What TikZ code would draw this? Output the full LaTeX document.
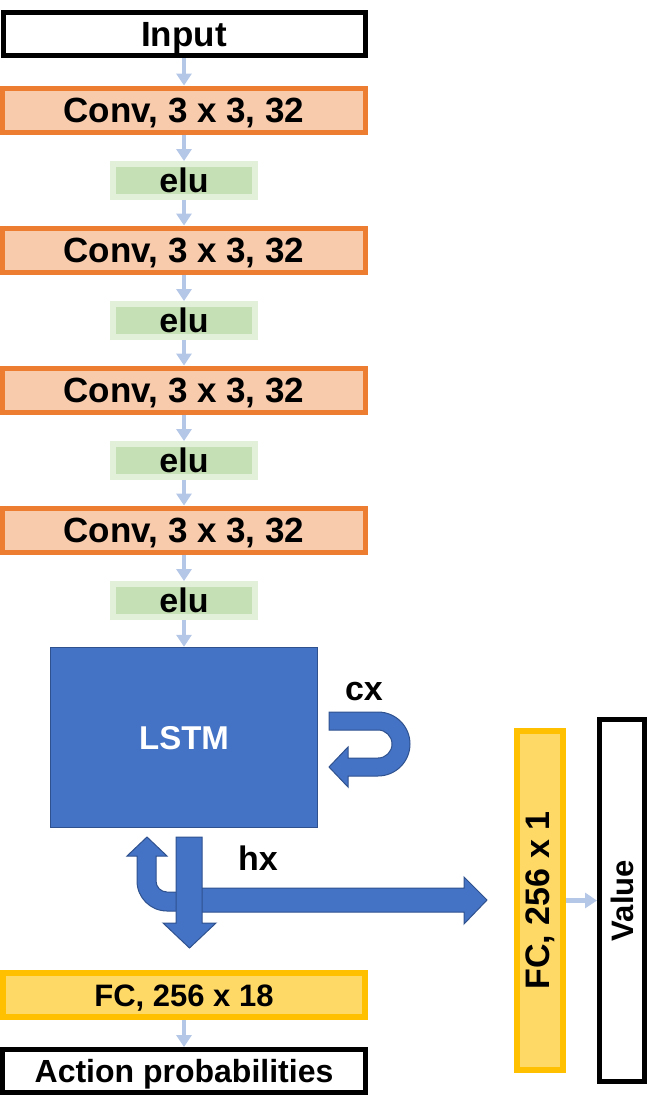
\documentclass[tikz,border=0pt]{standalone}
\usepackage{fontspec}
\setmainfont{Liberation Sans}
\usepackage{graphicx}
\usetikzlibrary{arrows.meta}
\definecolor{convline}{HTML}{ED7D31}
\definecolor{convfill}{HTML}{F8CBAD}
\definecolor{eluline}{HTML}{E2F0D9}
\definecolor{elufill}{HTML}{C5E0B4}
\definecolor{goldline}{HTML}{FFC000}
\definecolor{goldfill}{HTML}{FFD966}
\definecolor{lstmblue}{HTML}{4472C4}
\definecolor{darkblue}{HTML}{2F528F}
\definecolor{flowblue}{HTML}{B4C7E7}
\begin{document}
\begin{tikzpicture}[x=1pt,y=-1pt,
  fs/.style={font=\fontsize{#1}{#1}\selectfont\bfseries, text height=0.716*#1pt, text depth=0pt},
  box/.style={draw, line width=5pt, inner sep=0pt, minimum width=363pt, minimum height=44pt, fs=35},
  iobox/.style={box, draw=black, fill=white},
  convbox/.style={box, draw=convline, fill=convfill},
  elubox/.style={draw=eluline, fill=elufill, line width=6pt, inner sep=0pt, minimum width=142pt, minimum height=33pt, fs=34},
  fcbox/.style={draw=goldline, fill=goldfill, line width=6pt, inner sep=0pt},
  flow/.style={-{Triangle[width=15pt,length=12pt]}, line width=4.5pt, draw=flowblue},
  blockarrow/.style={fill=lstmblue, draw=darkblue, line width=1pt},
  lbl/.style={inner sep=0pt, font=\fontsize{34}{40}\selectfont\bfseries}
]
\useasboundingbox (0,0) rectangle (663,1112);

\node[iobox, minimum width=362pt, minimum height=43pt] (in) at (184,34) {Input};
\node[convbox] (c1) at (184,110) {Conv, 3 x 3, 32};
\node[elubox] (e1) at (184,180.5) {elu};
\node[convbox] (c2) at (184,250) {Conv, 3 x 3, 32};
\node[elubox] (e2) at (184,320.5) {elu};
\node[convbox] (c3) at (184,390) {Conv, 3 x 3, 32};
\node[elubox] (e3) at (184,460.5) {elu};
\node[convbox] (c4) at (184,530) {Conv, 3 x 3, 32};
\node[elubox] (e4) at (184,600.5) {elu};

\node[draw=darkblue, fill=lstmblue, line width=1.5pt, inner sep=0pt, minimum width=267pt, minimum height=180pt, text=white, fs=33] (lstm) at (184,737.5) {LSTM};

\node[fcbox, minimum width=362pt, minimum height=44pt, fs=31] (fc18) at (184,995) {FC, 256 x 18};
\node[iobox, minimum width=363pt, minimum height=43pt, fs=32] (act) at (184,1071) {Action probabilities};

\node[fcbox, minimum width=46pt, minimum height=339pt, font=\fontsize{34}{40}\selectfont\bfseries] (fc1) at (540,900.5) {\rotatebox{90}{FC, 256 x 1}};
\node[draw=black, fill=white, line width=5pt, inner sep=0pt, minimum width=45pt, minimum height=362pt, font=\fontsize{31}{40}\selectfont\bfseries] (value) at (622,900.5) {\rotatebox{90}{Value}};

\draw[flow] (in) -- (c1);
\draw[flow] (c1) -- (e1);
\draw[flow] (e1) -- (c2);
\draw[flow] (c2) -- (e2);
\draw[flow] (e2) -- (c3);
\draw[flow] (c3) -- (e3);
\draw[flow] (e3) -- (c4);
\draw[flow] (c4) -- (e4);
\draw[flow] (e4) -- (lstm);
\draw[flow] (fc18) -- (act);
\draw[flow] (fc1) -- (value);

% cx recurrent U-turn arrow
\filldraw[blockarrow] (329,712) -- (378,712) arc[start angle=90,end angle=-90,radius=32pt]
  -- (348,776) -- (348,787) -- (329,767) -- (348,747) -- (348,758) -- (378,758)
  arc[start angle=-90,end angle=90,radius=14pt] -- (329,730) -- cycle;
\node[lbl] (cx) at (364,692) {cx};

% hx arrows
\filldraw[blockarrow] (190,911) -- (167,911) arc[start angle=270,end angle=180,radius=30pt]
  -- (137,856) -- (127,856) -- (147,837) -- (167,856) -- (156,856) -- (156,881)
  arc[start angle=180,end angle=270,radius=11pt] -- (190,892) -- cycle;
\filldraw[blockarrow] (189,888) -- (464,888) -- (464,877) -- (487,900) -- (464,924) -- (464,912) -- (189,912) -- cycle;
\filldraw[blockarrow] (176,837) -- (202,837) -- (202,923) -- (216,923) -- (189.5,948) -- (163,923) -- (176,923) -- cycle;
\node[lbl] (hx) at (258,858) {hx};
\end{tikzpicture}
\end{document}
